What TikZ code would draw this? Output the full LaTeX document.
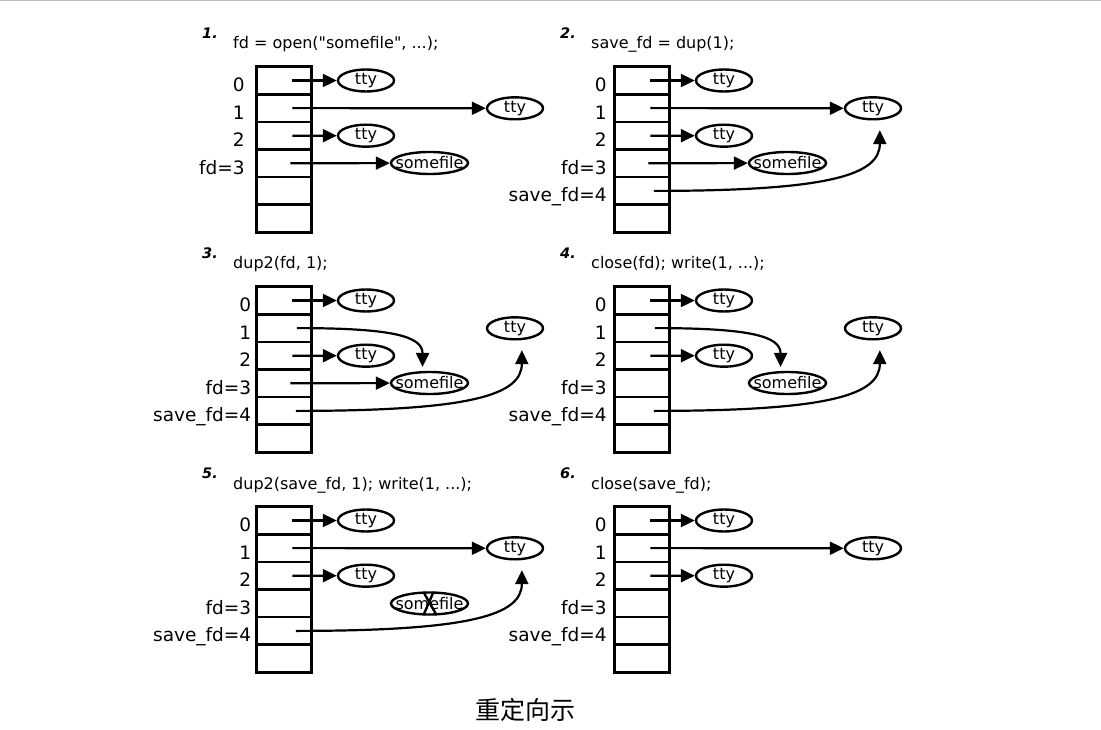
\documentclass[tikz,border=0pt]{standalone}
\usepackage{fontspec}
\usepackage{mathtools}
\setmainfont{DejaVu Sans}
\newfontfamily\cjkfont{Noto Sans CJK SC}
\usetikzlibrary{shapes.geometric,arrows.meta}

\tikzset{
  cell/.style={draw, line width=2.6pt, minimum width=55pt, minimum height=27.6pt, inner sep=0pt},
  fdlabel/.style={anchor=base east, inner sep=0pt, font=\fontsize{18.5}{20}\selectfont},
  fileobj/.style={draw, ellipse, line width=2.4pt, minimum width=56pt, minimum height=22pt, inner sep=0pt, font=\fontsize{16}{18}\selectfont},
  ptr/.style={line width=2.2pt, -{Triangle[length=14pt,width=13pt]}},
  stepnum/.style={anchor=base west, inner sep=0pt, font=\fontsize{14.5}{16}\selectfont\bfseries\itshape},
  stepcode/.style={anchor=base west, inner sep=0pt, font=\fontsize{16}{18}\selectfont},
}

\begin{document}
\begin{tikzpicture}[x=1pt,y=1pt]
    \useasboundingbox (0,0) rectangle (1101,-730);
    \draw [black!25, line width=1.5pt] (0,-0.75) -- (1101,-0.75);

    % 1. open
    \node[stepnum] (n1) at (202,-38.3) {1.};
    \node[stepcode] (s1) at (233,-49) {fd = open(\textquotedbl somefile\textquotedbl, ...);};
    \foreach \r in {0,...,5}
        \node[cell] (a\r) at (283.75,-80.5-27.6*\r) {};
    \foreach \r/\txt in {0/0,1/1,2/2,3/fd=3}
        \node[fdlabel] (a\r l) at ([xshift=-10pt,yshift=-11pt]a\r.west) {\txt};
    \node[fileobj] (at0) at (366,-80.5) {tty};
    \node[fileobj] (at1) at (515,-108.3) {tty};
    \node[fileobj] (at2) at (366,-135.7) {tty};
    \node[fileobj, minimum width=77pt] (as) at (429.5,-163) {\clap{somefile}};
    \draw[ptr] ([xshift=8.5pt]a0.center) -- (at0);
    \draw[ptr] ([xshift=8.5pt]a1.center) -- (at1);
    \draw[ptr] ([xshift=8.5pt]a2.center) -- (at2);
    \draw[ptr] ([xshift=6.5pt]a3.center) -- (as);

    % 2. dup
    \begin{scope}[shift={(358,0)}]
    \node[stepnum] (n2) at (202,-38.3) {2.};
    \node[stepcode] (s2) at (233,-49) {save\_fd = dup(1);};
    \foreach \r in {0,...,5}
        \node[cell] (b\r) at (283.75,-80.5-27.6*\r) {};
    \foreach \r/\txt in {0/0,1/1,2/2,3/fd=3,4/save\_fd=4}
        \node[fdlabel] (b\r l) at ([xshift=-6pt,yshift=-11pt]b\r.west) {\txt};
    \node[fileobj] (bt0) at (366,-80.5) {tty};
    \node[fileobj] (bt1) at (515,-108.3) {tty};
    \node[fileobj] (bt2) at (366,-135.7) {tty};
    \node[fileobj, minimum width=77pt] (bs) at (429.5,-163) {\clap{somefile}};
    \draw[ptr] ([xshift=8.5pt]b0.center) -- (bt0);
    \draw[ptr] ([xshift=8.5pt]b1.center) -- (bt1);
    \draw[ptr] ([xshift=8.5pt]b2.center) -- (bt2);
    \draw[ptr] ([xshift=6.5pt]b3.center) -- (bs);
    \draw[ptr, shorten >=10pt] ([xshift=12pt]b4.center) .. controls +(175,0) and +(0,-55) .. (bt1.-60);
    \end{scope}

    % 3. dup2
    \begin{scope}[shift={(0,-220)}]
    \node[stepnum] (n3) at (202,-38.3) {3.};
    \node[stepcode] (s3) at (233,-49) {dup2(fd, 1);};
    \foreach \r in {0,...,5}
        \node[cell] (c\r) at (283.75,-80.5-27.6*\r) {};
    \foreach \r/\txt in {0/0,1/1,2/2,3/fd=3,4/save\_fd=4}
        \node[fdlabel] (c\r l) at ([xshift=-3.5pt,yshift=-11pt]c\r.west) {\txt};
    \node[fileobj] (ct0) at (366,-80.5) {tty};
    \node[fileobj] (ct1) at (515,-108.3) {tty};
    \node[fileobj] (ct2) at (366,-135.7) {tty};
    \node[fileobj, minimum width=77pt] (cs) at (429.5,-163) {\clap{somefile}};
    \draw[ptr] ([xshift=8.5pt]c0.center) -- (ct0);
    \draw[ptr, shorten >=4pt] ([xshift=13pt]c1.center) .. controls +(95,0) and +(0,35) .. (cs.120);
    \draw[ptr] ([xshift=8.5pt]c2.center) -- (ct2);
    \draw[ptr] ([xshift=6.5pt]c3.center) -- (cs);
    \draw[ptr, shorten >=10pt] ([xshift=12pt]c4.center) .. controls +(175,0) and +(0,-55) .. (ct1.-60);
    \end{scope}

    % 4. close fd
    \begin{scope}[shift={(358,-220)}]
    \node[stepnum] (n4) at (202,-38.3) {4.};
    \node[stepcode] (s4) at (233,-49) {close(fd); write(1, ...);};
    \foreach \r in {0,...,5}
        \node[cell] (d\r) at (283.75,-80.5-27.6*\r) {};
    \foreach \r/\txt in {0/0,1/1,2/2,3/fd=3,4/save\_fd=4}
        \node[fdlabel] (d\r l) at ([xshift=-6pt,yshift=-11pt]d\r.west) {\txt};
    \node[fileobj] (dt0) at (366,-80.5) {tty};
    \node[fileobj] (dt1) at (515,-108.3) {tty};
    \node[fileobj] (dt2) at (366,-135.7) {tty};
    \node[fileobj, minimum width=77pt] (ds) at (429.5,-163) {\clap{somefile}};
    \draw[ptr] ([xshift=8.5pt]d0.center) -- (dt0);
    \draw[ptr, shorten >=4pt] ([xshift=13pt]d1.center) .. controls +(95,0) and +(0,35) .. (ds.120);
    \draw[ptr] ([xshift=8.5pt]d2.center) -- (dt2);
    \draw[ptr, shorten >=10pt] ([xshift=12pt]d4.center) .. controls +(175,0) and +(0,-55) .. (dt1.-60);
    \end{scope}

    % 5. restore
    \begin{scope}[shift={(0,-440)}]
    \node[stepnum] (n5) at (202,-38.3) {5.};
    \node[stepcode] (s5) at (233,-49) {dup2(save\_fd, 1); write(1, ...);};
    \foreach \r in {0,...,5}
        \node[cell] (e\r) at (283.75,-80.5-27.6*\r) {};
    \foreach \r/\txt in {0/0,1/1,2/2,3/fd=3,4/save\_fd=4}
        \node[fdlabel] (e\r l) at ([xshift=-3.5pt,yshift=-11pt]e\r.west) {\txt};
    \node[fileobj] (et0) at (366,-80.5) {tty};
    \node[fileobj] (et1) at (515,-108.3) {tty};
    \node[fileobj] (et2) at (366,-135.7) {tty};
    \node[fileobj, minimum width=77pt] (es) at (429.5,-163.5) {\clap{somefile}};
    \draw[line width=2.4pt] ([xshift=-6pt,yshift=11.5pt]es.center) -- ([xshift=7pt,yshift=-11.5pt]es.center);
    \draw[line width=2.4pt] ([xshift=4pt,yshift=11.5pt]es.center) -- ([xshift=-6pt,yshift=-11.5pt]es.center);
    \draw[ptr] ([xshift=8.5pt]e0.center) -- (et0);
    \draw[ptr] ([xshift=8.5pt]e1.center) -- (et1);
    \draw[ptr] ([xshift=8.5pt]e2.center) -- (et2);
    \draw[ptr, shorten >=10pt] ([xshift=12pt]e4.center) .. controls +(175,0) and +(0,-55) .. (et1.-60);
    \end{scope}

    % 6. close save_fd
    \begin{scope}[shift={(358,-440)}]
    \node[stepnum] (n6) at (202,-38.3) {6.};
    \node[stepcode] (s6) at (233,-49) {close(save\_fd);};
    \foreach \r in {0,...,5}
        \node[cell] (f\r) at (283.75,-80.5-27.6*\r) {};
    \foreach \r/\txt in {0/0,1/1,2/2,3/fd=3,4/save\_fd=4}
        \node[fdlabel] (f\r l) at ([xshift=-6pt,yshift=-11pt]f\r.west) {\txt};
    \node[fileobj] (ft0) at (366,-80.5) {tty};
    \node[fileobj] (ft1) at (515,-108.3) {tty};
    \node[fileobj] (ft2) at (366,-135.7) {tty};
    \draw[ptr] ([xshift=8.5pt]f0.center) -- (ft0);
    \draw[ptr] ([xshift=8.5pt]f1.center) -- (ft1);
    \draw[ptr] ([xshift=8.5pt]f2.center) -- (ft2);
    \end{scope}

    \node[font=\cjkfont\fontsize{25}{27}\selectfont] (cap) at (525,-710) {重定向示};
\end{tikzpicture}
\end{document}
